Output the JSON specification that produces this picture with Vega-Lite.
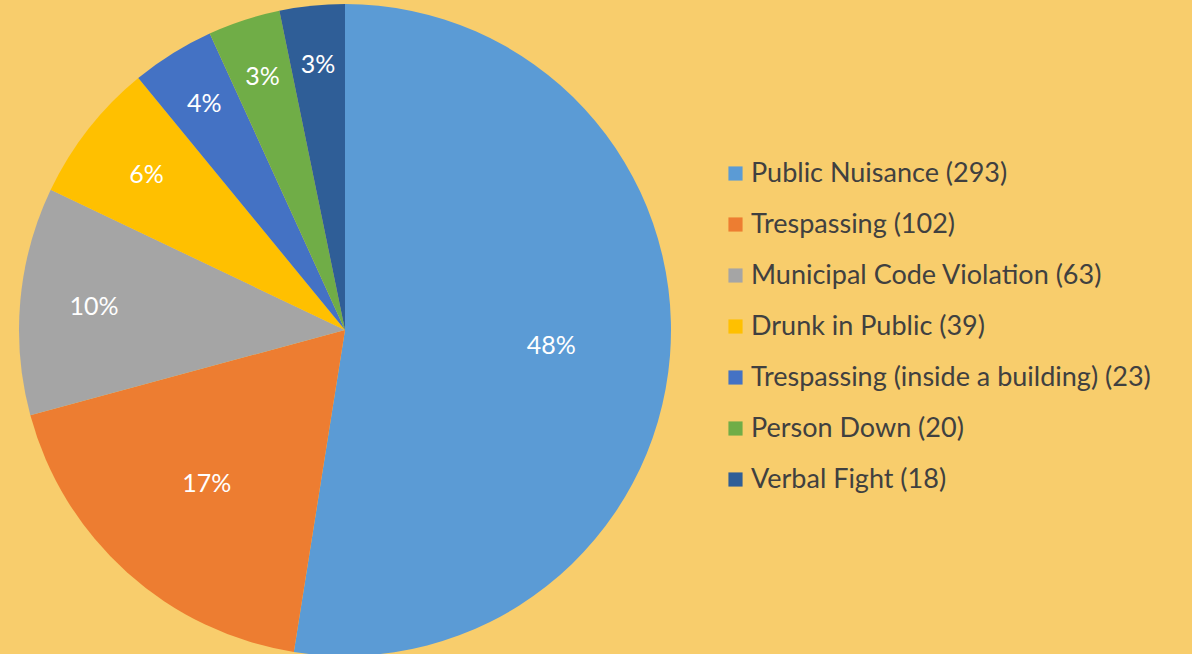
{
  "$schema": "https://vega.github.io/schema/vega-lite/v6.json",
  "width": 690,
  "height": 660,
  "padding": {"left": 0, "top": 0, "right": 502, "bottom": 0},
  "autosize": {"type": "none"},
  "background": "#F8CD6C",
  "config": {"view": {"stroke": null}},
  "data": {
    "values": [
      {"category": "Public Nuisance (293)", "count": 293, "pct": "48%"},
      {"category": "Trespassing (102)", "count": 102, "pct": "17%"},
      {"category": "Municipal Code Violation (63)", "count": 63, "pct": "10%"},
      {"category": "Drunk in Public (39)", "count": 39, "pct": "6%"},
      {"category": "Trespassing (inside a building) (23)", "count": 23, "pct": "4%"},
      {"category": "Person Down (20)", "count": 20, "pct": "3%"},
      {"category": "Verbal Fight (18)", "count": 18, "pct": "3%"}
    ]
  },
  "encoding": {
    "theta": {"field": "count", "type": "quantitative", "stack": true},
    "order": {"field": "count", "type": "quantitative", "sort": "descending"}
  },
  "layer": [
    {
      "mark": {"type": "arc", "outerRadius": 326, "strokeWidth": 0},
      "encoding": {
        "color": {
          "field": "category",
          "type": "nominal",
          "sort": null,
          "scale": {
            "domain": ["Public Nuisance (293)", "Trespassing (102)", "Municipal Code Violation (63)", "Drunk in Public (39)", "Trespassing (inside a building) (23)", "Person Down (20)", "Verbal Fight (18)"],
            "range": ["#5B9BD5", "#ED7D31", "#A5A5A5", "#FFC000", "#4472C4", "#70AD47", "#2F5E97"]
          },
          "legend": {
            "title": null,
            "orient": "none",
            "legendX": 722,
            "legendY": 160,
            "symbolType": "square",
            "symbolSize": 200,
            "symbolStrokeWidth": 0,
            "labelFont": "Lato",
            "labelFontSize": 27,
            "labelColor": "#404040",
            "rowPadding": 23,
            "labelOffset": 2,
            "labelLimit": 600
          }
        }
      }
    },
    {
      "mark": {"type": "text", "font": "Lato", "fontSize": 25, "fill": "white", "radius": 207},
      "encoding": {
        "text": {"condition": {"test": "datum.count >= 100", "field": "pct"}, "value": ""}
      }
    },
    {
      "mark": {"type": "text", "font": "Lato", "fontSize": 25, "fill": "white", "radius": 252},
      "encoding": {
        "text": {"condition": {"test": "datum.count >= 30 && datum.count < 100", "field": "pct"}, "value": ""}
      }
    },
    {
      "mark": {"type": "text", "font": "Lato", "fontSize": 25, "fill": "white", "radius": 266},
      "encoding": {
        "text": {"condition": {"test": "datum.count < 30", "field": "pct"}, "value": ""}
      }
    }
  ]
}
